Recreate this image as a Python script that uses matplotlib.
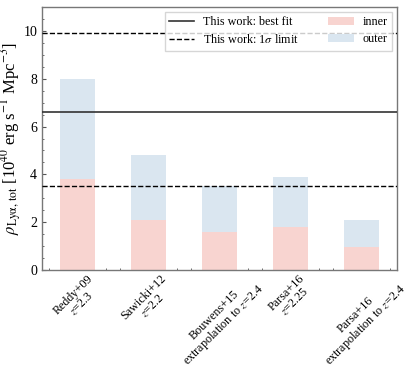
import numpy as np
import matplotlib
matplotlib.use("Agg")
import matplotlib.pyplot as plt
from matplotlib.ticker import AutoMinorLocator, MultipleLocator

plt.rcParams['font.family'] = ['Liberation Serif', 'DejaVu Serif']
plt.rcParams['mathtext.fontset'] = 'stix'

# ---------------- Data ----------------
labels = ["Reddy+09\n$z$=2.3", "Sawicki+12\n$z$=2.2",
          "Bouwens+15\nextrapolation to $z$=2.4", "Parsa+16\n$z$=2.25",
          "Parsa+16\nextrapolation to $z$=2.4"]
total = [8.0, 4.8, 3.5, 3.87, 2.1]
inner = [3.8, 2.1, 1.6, 1.8, 0.95]
best_fit = 6.6
sigma_low = 3.5
sigma_high = 9.9

# ---------------- Figure ----------------
fig = plt.figure(figsize=(4.15, 3.74), dpi=100)
ax = fig.add_axes([42 / 415, 1 - 270 / 374, 355 / 415, 263 / 374])

x = np.arange(len(labels))
ax.bar(x, total, width=0.5, color="#dae6f0", label="outer", zorder=1)
ax.bar(x, inner, width=0.5, color="#f8d4d0", label="inner", zorder=2)

ax.axhline(best_fit, color="#333333", lw=1.2, ls="-", label="This work: best fit", zorder=3)
ax.axhline(sigma_high, color="black", lw=1.0, ls="--", label=r"This work: 1$\sigma$ limit", zorder=3)
ax.axhline(sigma_low, color="black", lw=1.0, ls="--", zorder=3)

ax.set_xlim(-0.5, 4.5)
ax.set_ylim(0, 11)
ax.set_xticks(x)
ax.set_xticklabels(labels, rotation=45, ha="center", fontsize=8.7,
                   multialignment="center", linespacing=1.0)
ax.yaxis.set_major_locator(MultipleLocator(2))
ax.yaxis.set_minor_locator(AutoMinorLocator(4))
ax.xaxis.set_minor_locator(AutoMinorLocator(5))
ax.tick_params(which="both", direction="in", colors="#555555", labelcolor="black")
ax.tick_params(axis="y", labelsize=10)
ax.tick_params(axis="x", pad=2)
ax.tick_params(which="major", length=3)
ax.tick_params(which="minor", length=1.5)
for s in ax.spines.values():
    s.set_color("#777777")
    s.set_linewidth(1.0)

ax.set_ylabel(r"$\rho_{\rm Ly\alpha,\,tot}$ [10$^{40}$ erg s$^{-1}$ Mpc$^{-3}$]", fontsize=12)
ax.yaxis.set_label_coords(-0.05, 0.5)

h, l = ax.get_legend_handles_labels()
order = [l.index("This work: best fit"), l.index(r"This work: 1$\sigma$ limit"),
         l.index("inner"), l.index("outer")]
ax.legend([h[i] for i in order], [l[i] for i in order], ncol=2, loc="upper right",
          fontsize=8.7, frameon=True, fancybox=False, edgecolor="#cccccc",
          borderpad=0.35, handlelength=2.1, handletextpad=0.75, columnspacing=2.4,
          labelspacing=0.45, borderaxespad=0.4)

fig.savefig("out.png", dpi=100)
